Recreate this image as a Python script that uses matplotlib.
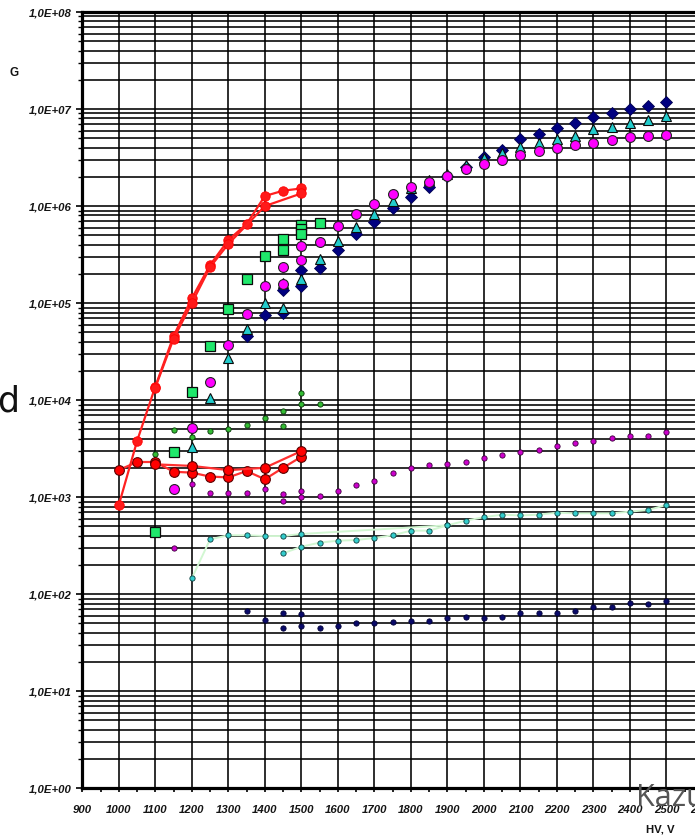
import numpy as np
import matplotlib
matplotlib.use("Agg")
import matplotlib.pyplot as plt
from matplotlib.ticker import FixedLocator, FuncFormatter, NullFormatter

# ---- data: gain G versus high voltage HV (V) ----
hv_ticks = list(range(900, 2700, 100))
hv_minor = list(range(950, 2650, 100))
g_decades = [10.0 ** k for k in range(0, 9)]

red_steep_a_hv = [1000, 1050, 1100, 1150, 1200, 1250, 1300, 1350, 1400, 1450, 1500]
red_steep_a_g = [830, 3790, 13800, 45800, 112000, 247000, 447000, 653000, 1270000, 1440000, 1520000]
red_steep_b_hv = [1100, 1150, 1200, 1250, 1300, 1400, 1500]
red_steep_b_g = [13500, 43000, 100000, 235000, 407000, 1000000, 1350000]
red_flat_a_hv = [1000, 1050, 1100, 1150, 1200, 1250, 1300, 1350, 1400, 1450, 1500]
red_flat_a_g = [1905, 2305, 2305, 1830, 1790, 1630, 1600, 1860, 1530, 2010, 2610]
red_flat_b_hv = [1100, 1200, 1300, 1400, 1500]
red_flat_b_g = [2180, 2100, 1900, 2010, 2990]

square_hv = [1100, 1150, 1200, 1250, 1300, 1350, 1400, 1450, 1450, 1500, 1500, 1500, 1550]
square_g = [441, 2940, 12100, 36400, 86300, 177000, 306000, 455000, 354000,
            638000, 580000, 519000, 674000]

hv_tail = list(range(1550, 2550, 50))

magenta_hv = [1150, 1200, 1250, 1300, 1350, 1400, 1450, 1450, 1500, 1500, 1550] + list(range(1600, 2550, 50))
magenta_g = [1205, 5130, 15300, 37300, 77300, 151000, 237000, 156000, 385000, 276000, 425000,
             628000, 828000, 1.05e6, 1.32e6, 1.56e6, 1.78e6, 2.06e6, 2.40e6, 2.71e6, 2.98e6,
             3.36e6, 3.72e6, 3.94e6, 4.26e6, 4.50e6, 4.80e6, 5.11e6, 5.27e6, 5.44e6]

triangle_hv = [1200, 1250, 1300, 1350, 1400, 1450, 1450, 1500] + hv_tail
triangle_g = [3310, 10600, 27000, 53700, 101000, 90100, 163000, 179000,
              287000, 440000, 613000, 822000, 1.14e6, 1.54e6, 1.86e6, 2.13e6, 2.65e6, 3.14e6,
              3.55e6, 4.03e6, 4.44e6, 4.91e6, 5.27e6, 6.18e6, 6.58e6, 7.23e6, 7.71e6, 8.48e6]

diamond_hv = [1350, 1400, 1450, 1450, 1500, 1500] + hv_tail
diamond_g = [45800, 74900, 79100, 136000, 151000, 219000,
             231000, 353000, 515000, 690000, 949000, 1.25e6, 1.58e6, 2.04e6, 2.51e6, 3.21e6,
             3.82e6, 4.88e6, 5.53e6, 6.33e6, 7.13e6, 8.22e6, 9.17e6, 9.94e6, 1.07e7, 1.19e7]

green_dot_hv = [1100, 1150, 1200, 1250, 1300, 1350, 1400, 1450, 1450, 1500, 1500, 1550]
green_dot_g = [2790, 4920, 4140, 4840, 5040, 5540, 6500, 7730, 5420, 11800, 9060, 9130]

magenta_dot_hv = [1150, 1200, 1250, 1300, 1350, 1400, 1450, 1450, 1500, 1500] + hv_tail
magenta_dot_g = [302, 1368, 1097, 1097, 1112, 1205, 1078, 920, 1158, 1005,
                 1035, 1166, 1326, 1480, 1790, 2000, 2130, 2215, 2320, 2520,
                 2690, 2900, 3080, 3370, 3620, 3800, 4050, 4270, 4270, 4670]

cyan_dot_a_hv = [1200, 1250, 1300, 1350, 1400, 1450, 1500] + list(range(1900, 2550, 50))
cyan_dot_a_g = [146, 368, 405, 405, 398, 398, 418,
                513, 573, 622, 661, 648, 661, 692, 682, 682, 682, 710, 738, 832]
cyan_dot_b_hv = [1450, 1500, 1550, 1600, 1650, 1700, 1750, 1800, 1850, 1900]
cyan_dot_b_g = [264, 309, 340, 356, 362, 380, 405, 452, 452, 513]

navy_dot_hv = [1350, 1400, 1450, 1450, 1500, 1500] + hv_tail
navy_dot_g = [67.6, 53.8, 63.6, 44.6, 62.5, 47.1,
              45.2, 47.4, 50.2, 50.9, 52.1, 53.0, 53.4, 56.5, 58.7, 57.3,
              58.7, 63.6, 63.6, 64.5, 67.6, 73.3, 74.4, 80.7, 78.8, 84.6]

# ---- figure ----
W, H = 695, 836
fig = plt.figure(figsize=(W / 100, H / 100), dpi=100)
x0, x1 = 82.3, 703.0
y0, y1 = 12.0, 788.3
ax = fig.add_axes([x0 / W, 1 - y1 / H, (x1 - x0) / W, (y1 - y0) / H])
ax.set_xlim(900, 2600)
ax.set_yscale("log")
ax.set_ylim(1, 1e8)

# grid
ax.xaxis.set_major_locator(FixedLocator(hv_ticks))
ax.xaxis.set_minor_locator(FixedLocator(hv_minor))
minor_y = [m * d for d in g_decades[:-1] for m in range(2, 10)]
ax.yaxis.set_major_locator(FixedLocator(g_decades))
ax.yaxis.set_minor_locator(FixedLocator(minor_y))
ax.yaxis.set_minor_formatter(NullFormatter())
ax.yaxis.set_major_formatter(FuncFormatter(lambda v, p: "1,0E+%02d" % int(round(np.log10(v)))))
ax.grid(True, which="major", axis="both", color="black", lw=1.15)
ax.grid(True, which="minor", axis="y", color="black", lw=1.15)
ax.set_axisbelow(True)

for s in ["left", "bottom", "top"]:
    ax.spines[s].set_linewidth(2.3)
    ax.spines[s].set_color("black")
ax.spines["right"].set_visible(False)

tick_family = ["Liberation Sans", "DejaVu Sans"]
ax.tick_params(axis="y", which="major", length=4, width=1.2, pad=3.5, direction="out")
ax.tick_params(axis="y", which="minor", length=3, width=1.0, direction="out")
ax.tick_params(axis="x", which="both", length=3, width=1.2, pad=9, direction="out")
for lab in ax.get_xticklabels() + ax.get_yticklabels():
    lab.set_fontfamily(tick_family)
    lab.set_fontweight("bold")
    lab.set_fontstyle("italic")
    lab.set_fontsize(8.2)
    lab.set_color("#141414")

# ---- series ----
ax.plot(navy_dot_hv, navy_dot_g, ls="none", marker="o", ms=3.8, mfc="#0a0a6a", mec="#000033", mew=0.6, zorder=3)
ax.plot(cyan_dot_a_hv, cyan_dot_a_g, color="#d2f7d2", lw=1.4, marker="o", ms=3.8,
        mfc="#33cccc", mec="#0b3f3f", mew=0.6, zorder=3)
ax.plot(cyan_dot_b_hv, cyan_dot_b_g, color="#d2f7d2", lw=1.4, marker="o", ms=3.8,
        mfc="#33cccc", mec="#0b3f3f", mew=0.6, zorder=3)
ax.plot(magenta_dot_hv, magenta_dot_g, ls="none", marker="o", ms=3.8, mfc="#cc00cc", mec="#3a003a", mew=0.6, zorder=3)
ax.plot(green_dot_hv, green_dot_g, ls="none", marker="o", ms=3.8, mfc="#33bb33", mec="#063306", mew=0.6, zorder=3)

ax.plot(diamond_hv, diamond_g, ls="none", marker="D", ms=6.3, mfc="#000080", mec="#000050", mew=0.6, zorder=4)
ax.plot(triangle_hv, triangle_g, ls="none", marker="^", ms=7.2, mfc="#22cccc", mec="#0a0a0a", mew=0.8, zorder=5)
ax.plot(magenta_hv, magenta_g, ls="none", marker="o", ms=7.1, mfc="#ff00ff", mec="#222222", mew=0.8, zorder=6)
ax.plot(square_hv, square_g, ls="none", marker="s", ms=7.3, mfc="#1fe86b", mec="#0a0a0a", mew=0.9, zorder=6)

for hv, g in [(red_flat_a_hv, red_flat_a_g), (red_flat_b_hv, red_flat_b_g)]:
    ax.plot(hv, g, color="#ff3030", lw=1.6, marker="o", ms=7.0, mfc="#ff0000", mec="#5a0000", mew=0.8, zorder=7)
for hv, g in [(red_steep_a_hv, red_steep_a_g), (red_steep_b_hv, red_steep_b_g)]:
    ax.plot(hv, g, color="#ff2020", lw=1.6, marker="o", ms=6.8, mfc="#ff1a1a", mec="#ff0000", mew=0.6, zorder=7)

# ---- labels ----
fig.text(14.5 / W, 1 - 73.5 / H, "G", ha="center", va="center", fontsize=8.5,
         fontweight="bold", family=["Liberation Sans", "DejaVu Sans"], color="#141414")
fig.text(660 / W, 1 - 830 / H, "HV, V", ha="center", va="center", fontsize=8.2,
         fontweight="bold", family=["Liberation Sans", "DejaVu Sans"], color="#141414")
fig.text(-3 / W, 1 - 412 / H, "d", ha="left", va="baseline", fontsize=25,
         family=["DejaVu Sans"], color="#111111")
fig.text(636 / W, 1 - 806 / H, "Kazu", ha="left", va="baseline", fontsize=22,
         family=["Open Sans", "DejaVu Sans"], color="#555555")

fig.savefig("out.png", dpi=100)
